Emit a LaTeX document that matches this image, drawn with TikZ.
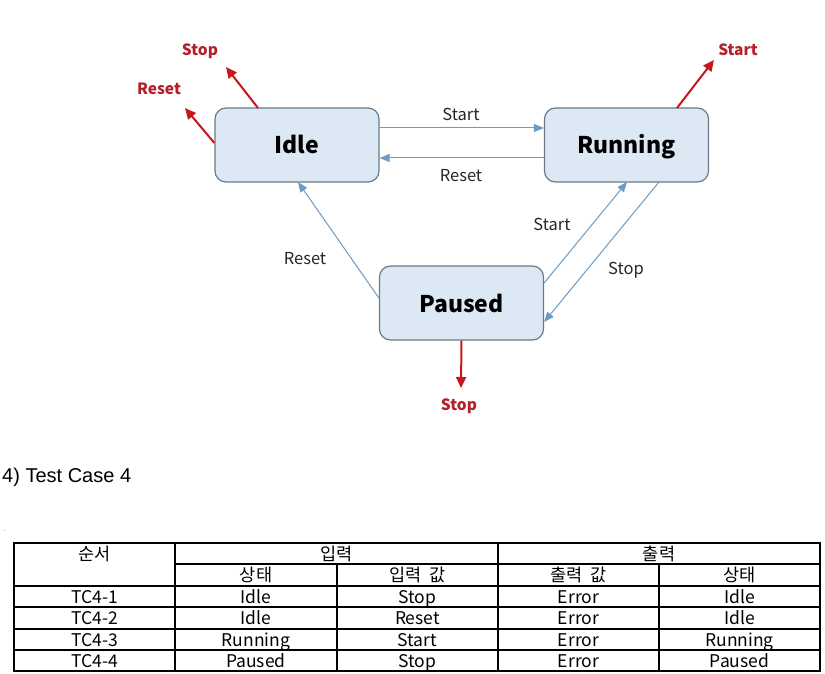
\documentclass[tikz,border=0pt]{standalone}
\usepackage{fontspec}
\setmainfont{Noto Sans CJK KR}
\newfontfamily\arialf{Liberation Sans}
\usetikzlibrary{arrows.meta}
\definecolor{boxfill}{HTML}{DCE8F4}
\definecolor{boxedge}{HTML}{6A7A88}
\definecolor{flow}{HTML}{6C9BC4}
\definecolor{redarr}{HTML}{C8161D}
\definecolor{redtxt}{HTML}{B3202A}
\tikzset{
  state/.style={draw=boxedge,line width=1.2pt,fill=boxfill,rounded corners=11pt,minimum width=164pt,minimum height=74pt,font=\fontsize{23}{26}\selectfont\bfseries,inner sep=0pt,text height=21pt,text depth=3pt},
  flowarr/.style={draw=flow,line width=1pt,-{Triangle[length=10pt,width=8pt]}},
  redarrow/.style={draw=redarr,line width=2pt,-{Triangle[length=11pt,width=10pt]}},
  flowlbl/.style={font=\fontsize{16.5}{19}\selectfont,text=black!85,inner sep=0pt},
  redlbl/.style={font=\fontsize{15.5}{18}\selectfont\bfseries,text=redtxt,inner sep=0pt},
  cell/.style={font=\fontsize{17.5}{19}\selectfont,inner sep=0pt,anchor=base},
  grid/.style={line width=1.6pt,black}
}
\begin{document}
\begin{tikzpicture}[x=1pt,y=-1pt]
\useasboundingbox[fill=white] (0,0) rectangle (825,674);
% states
\node[state] (idle) at (297,145) {Idle};
\node[state] (run) at (626.5,145) {Running};
\node[state] (pause) at (461.5,303) {Paused};
% flow arrows
\draw[flowarr] (idle.east |- 0,128) -- (run.west |- 0,128);
\draw[flowarr] (run.west |- 0,158) -- (idle.east |- 0,158);
\draw[flowarr] (pause.west |- 0,298) -- (298,182);
\draw[flowarr] (pause.east |- 0,283) -- (627,182);
\draw[flowarr] (659,182) -- (pause.east |- 0,322);
\node[flowlbl] (l1) at (461,114) {Start};
\node[flowlbl] (l2) at (461,176) {Reset};
\node[flowlbl] (l3) at (305,259) {Reset};
\node[flowlbl] (l4) at (552,224) {Start};
\node[flowlbl] (l5) at (626,270) {Stop};
% red arrows
\coordinate (r1) at (185,108);
\coordinate (r2) at (226,67);
\coordinate (r3) at (714,60);
\coordinate (r4) at (461,388);
\draw[redarrow] (idle.west |- 0,143) -- (r1);
\draw[redarrow] (258,108) -- (r2);
\draw[redarrow] (677,108) -- (r3);
\draw[redarrow] (pause.south) -- (r4);
\node[redlbl] (t1) at (159,89) {Reset};
\node[redlbl] (t2) at (200,51) {Stop};
\node[redlbl] (t3) at (738,50) {Start};
\node[redlbl] (t4) at (459,406) {Stop};
% caption
\node[anchor=west,inner sep=0pt,font=\arialf\fontsize{20}{22}\selectfont] (cap) at (2,477) {4) Test Case 4};
\node[inner sep=0pt,font=\fontsize{6}{6}\selectfont] (dot) at (5,531) {.};
% table
\draw[grid] (14,543) rectangle (820,671);
\draw[grid] (175,564) -- (820,564);
\foreach \y in {586,607,629,650} \draw[grid] (14,\y) -- (820,\y);
\draw[grid] (175,543) -- (175,671);
\draw[grid] (498,543) -- (498,671);
\draw[grid] (337,564) -- (337,671);
\draw[grid] (659,564) -- (659,671);
\node[cell] (h1) at (94.5,560) {순서};
\node[cell] (h2) at (336.5,560) {입력};
\node[cell] (h3) at (659,560) {출력};
\node[cell] (h4) at (256,581) {상태};
\node[cell] (h5) at (417.5,581) {입력\ \ 값};
\node[cell] (h6) at (578.5,581) {출력\ \ 값};
\node[cell] (h7) at (739.5,581) {상태};
\foreach \r/\y/\a/\b/\c/\d/\e in {1/603/TC4-1/Idle/Stop/Error/Idle,2/624/TC4-2/Idle/Reset/Error/Idle,3/646/TC4-3/Running/Start/Error/Running,4/667/TC4-4/Paused/Stop/Error/Paused}{
  \node[cell] (c\r a) at (94.5,\y) {\a};
  \node[cell] (c\r b) at (256,\y) {\b};
  \node[cell] (c\r c) at (417.5,\y) {\c};
  \node[cell] (c\r d) at (578.5,\y) {\d};
  \node[cell] (c\r e) at (739.5,\y) {\e};
}
\end{tikzpicture}
\end{document}
